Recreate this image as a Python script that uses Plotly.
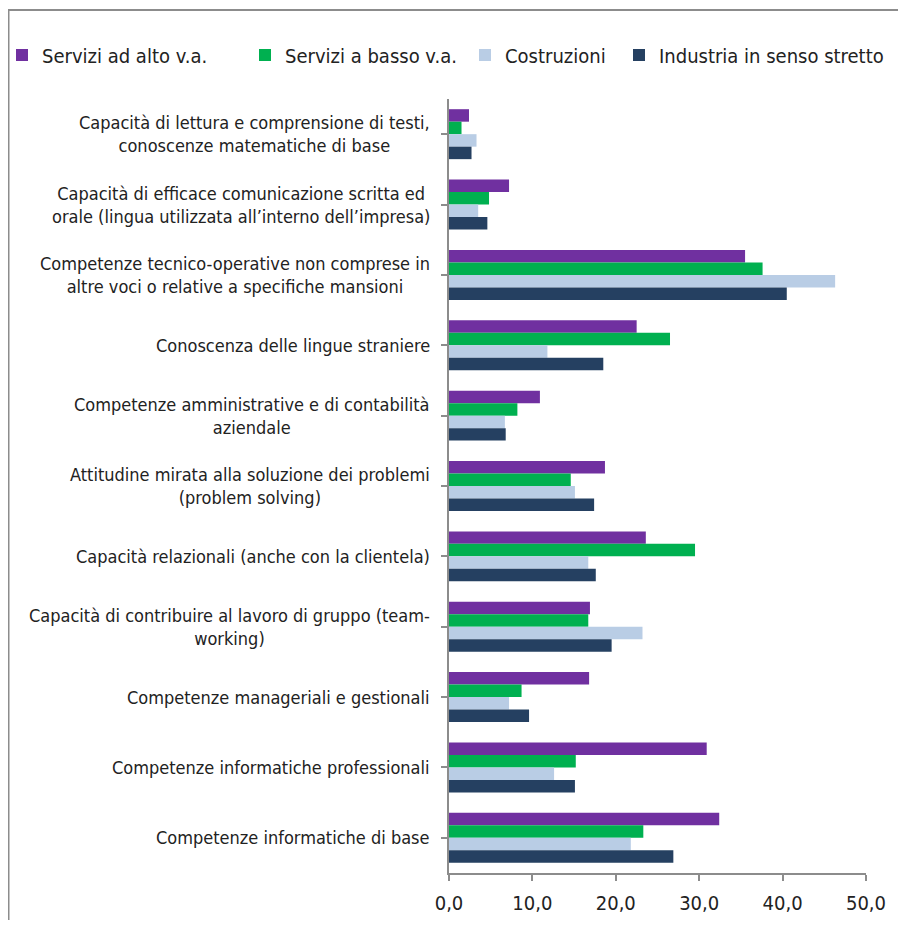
import plotly.graph_objects as go

categories = [
    "Capacità di lettura e comprensione di testi,<br>conoscenze matematiche di base",
    "Capacità di efficace comunicazione scritta ed<br>orale (lingua utilizzata all’interno dell’impresa)",
    "Competenze tecnico-operative non comprese in<br>altre voci o relative a specifiche mansioni",
    "Conoscenza delle lingue straniere",
    "Competenze amministrative e di contabilità<br>aziendale",
    "Attitudine mirata alla soluzione dei problemi<br>(problem solving)",
    "Capacità relazionali (anche con la clientela)",
    "Capacità di contribuire al lavoro di gruppo (team-<br>working)",
    "Competenze manageriali e gestionali",
    "Competenze informatiche professionali",
    "Competenze informatiche di base",
]

series_names = ["Servizi ad alto v.a.", "Servizi a basso v.a.", "Costruzioni", "Industria in senso stretto"]
servizi_alto = [2.4, 7.2, 35.5, 22.5, 10.9, 18.7, 23.6, 16.9, 16.8, 30.9, 32.4]
servizi_basso = [1.5, 4.8, 37.6, 26.5, 8.2, 14.6, 29.5, 16.7, 8.7, 15.2, 23.3]
costruzioni = [3.3, 3.5, 46.3, 11.8, 6.7, 15.1, 16.7, 23.2, 7.2, 12.6, 21.8]
industria = [2.7, 4.6, 40.5, 18.5, 6.8, 17.4, 17.6, 19.5, 9.6, 15.1, 26.9]
colors = ["#7030A0", "#00B050", "#B9CDE5", "#254061"]

FONT = "DejaVu Sans Condensed, sans-serif"
OFF = 8  # page body margin
W, H = 906 - 2 * OFF, 928 - 2 * OFF
# target screen positions of the plot area
SX0, SX1, SY0, SY1 = 449, 866, 99, 873
L, R, T, B = SX0 - OFF, W - (SX1 - OFF), SY0 - OFF, H - (SY1 - OFF)
pw = W - L - R
ph = H - T - B
px = lambda s: (s - OFF - L) / pw
py = lambda s: (H - B - (s - OFF)) / ph

legend_text_x = [42, 285, 505, 659]
legend_names = ["legend", "legend2", "legend3", "legend4"]

fig = go.Figure()
ids = list(range(len(categories)))
for name, vals, col, lg in zip(series_names, [servizi_alto, servizi_basso, costruzioni, industria], colors, legend_names):
    fig.add_trace(go.Bar(y=ids, x=vals, name=name, orientation="h", legend=lg,
                         marker=dict(color=col, line=dict(width=0))))

for i, c in enumerate(categories):
    fig.add_annotation(x=0, xref="paper", y=i, yref="y", text=c, showarrow=False,
                       xanchor="right", yanchor="middle", align="center", xshift=-17,
                       font=dict(family=FONT, size=18, color="#222222"))

# chart border
fig.add_shape(type="rect", xref="paper", yref="paper",
              x0=px(8.5), x1=px(906 + 40), y0=py(928 + 200), y1=py(10),
              line=dict(color="#8c8c8c", width=2), fillcolor="rgba(0,0,0,0)", layer="below")

layout_legends = {}
for lg, tx in zip(legend_names, legend_text_x):
    layout_legends[lg] = dict(orientation="h", x=px(tx - 40), y=py(55), xanchor="left", yanchor="middle",
                              font=dict(family=FONT, size=20, color="#222222"),
                              itemwidth=30, bgcolor="rgba(0,0,0,0)")

fig.update_layout(
    width=W, height=H,
    margin=dict(l=L, r=R, t=T, b=B, autoexpand=False),
    barmode="group", bargap=0.29, bargroupgap=0,
    plot_bgcolor="white", paper_bgcolor="white",
    separators=",.",
    font=dict(family=FONT, size=18, color="#222222"),
    showlegend=True,
    **layout_legends,
)
fig.update_xaxes(range=[0, 50], dtick=10, tickformat=".1f", showgrid=False, zeroline=False,
                 showline=True, linecolor="#8c8c8c", linewidth=2, ticks="outside", ticklen=6,
                 tickcolor="#8c8c8c", tickwidth=2, tickfont=dict(size=20, color="#222222"),
                 ticklabelstandoff=5, automargin=False)
fig.update_yaxes(tickmode="array", tickvals=ids, showticklabels=False, autorange="reversed",
                 range=[len(categories) - 0.5, -0.5], automargin=False,
                 showgrid=False, zeroline=False, showline=True, linecolor="#8c8c8c", linewidth=2,
                 ticks="outside", ticklen=6, tickcolor="#8c8c8c", tickwidth=2, tickson="boundaries")

fig.write_html("out.html")
